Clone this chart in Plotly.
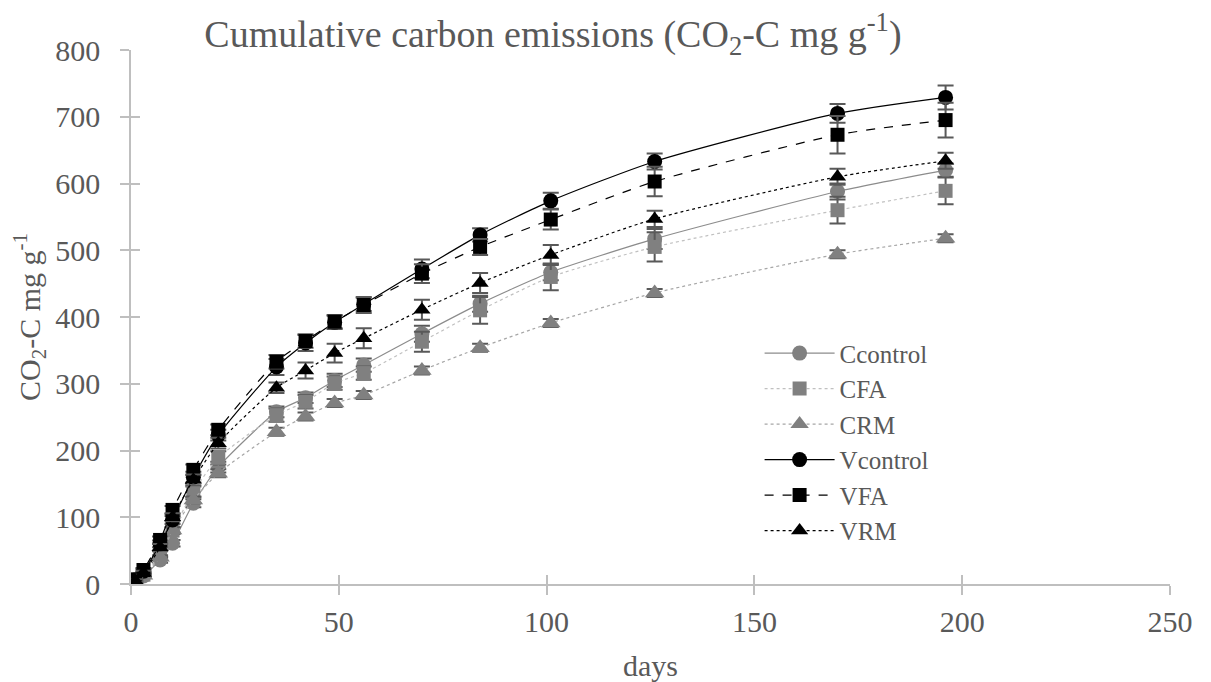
import plotly.graph_objects as go

# sampling days
days = [1, 3, 7, 10, 15, 21, 35, 42, 49, 56, 70, 84, 101, 126, 170, 196]

# cumulative CO2-C (mg g-1)
ccontrol = [3, 12, 36, 61, 121, 175, 258, 279, 305, 328, 375, 420, 467, 517, 588, 620]
cfa = [4, 14, 45, 80, 138, 189, 253, 273, 301, 316, 363, 410, 460, 505, 560, 589]
crm = [3, 13, 40, 81, 126, 166, 228, 251, 271, 283, 320, 354, 391, 436, 494, 518]
vcontrol = [6, 19, 60, 96, 160, 223, 325, 361, 392, 419, 472, 523, 574, 633, 705, 729]
vfa = [7, 21, 66, 111, 171, 231, 333, 364, 393, 418, 465, 505, 546, 603, 673, 695]
vrm = [5, 17, 55, 100, 156, 211, 294, 320, 346, 368, 411, 451, 493, 547, 610, 634]

# standard errors
ccontrol_err = [2, 3, 4, 5, 6, 8, 8, 8, 10, 10, 12, 12, 12, 15, 12, 10]
cfa_err = [2, 3, 4, 5, 8, 10, 10, 10, 10, 10, 15, 20, 20, 22, 20, 20]
crm_err = [1, 2, 3, 4, 5, 6, 6, 6, 6, 6, 6, 6, 6, 6, 6, 6]
vcontrol_err = [2, 3, 5, 6, 8, 8, 12, 12, 10, 10, 14, 10, 12, 12, 14, 18]
vfa_err = [2, 3, 5, 6, 8, 8, 10, 10, 10, 12, 14, 12, 15, 22, 28, 26]
vrm_err = [2, 3, 5, 6, 8, 8, 8, 12, 14, 15, 15, 15, 15, 12, 12, 12]

GRAY = "#808080"
TXT = "#595959"
AX = "#bfbfbf"
FONT = "Liberation Serif, Times New Roman, serif"

series = [
    ("Ccontrol", ccontrol, ccontrol_err, GRAY, "#8c8c8c", "solid", "circle", 15),
    ("CFA", cfa, cfa_err, GRAY, "#c0c0c0", "dot", "square", 14),
    ("CRM", crm, crm_err, GRAY, "#a6a6a6", "dot", "triangle-up", 17),
    ("Vcontrol", vcontrol, vcontrol_err, "black", "black", "solid", "circle", 15),
    ("VFA", vfa, vfa_err, "black", "black", "dash", "square", 14),
    ("VRM", vrm, vrm_err, "black", "black", "dot", "triangle-up", 15),
]

fig = go.Figure()
for name, vals, err, mcol, lcol, dash, sym, sz in series:
    fig.add_trace(go.Scatter(
        x=days, y=vals, name=name, mode="lines+markers",
        line=dict(color=lcol, width=1.2, dash=dash, shape="spline", smoothing=0.6),
        marker=dict(color=mcol, symbol=sym, size=sz),
        error_y=dict(type="data", array=err, color=TXT, thickness=2, width=8),
    ))

# invisible trace on an overlay axis pair so ticks also point inward (crossing ticks)
fig.add_trace(go.Scatter(x=[days[0]], y=[ccontrol[0]], xaxis="x2", yaxis="y2",
                         mode="markers", marker=dict(opacity=0), showlegend=False,
                         hoverinfo="skip"))

axis_common = dict(showgrid=False, zeroline=False, showline=True, linecolor=AX,
                   linewidth=1.5, ticks="outside", ticklen=9, tickcolor=AX,
                   tickwidth=1.5, automargin=False,
                   tickfont=dict(family=FONT, size=30, color=TXT))

fig.update_layout(
    width=1203, height=674,
    paper_bgcolor="white", plot_bgcolor="white",
    margin=dict(l=123, r=41, t=42, b=98),
    font=dict(family=FONT, color=TXT),
    title=dict(text="Cumulative carbon emissions (CO<sub>2</sub>-C mg g<sup>-1</sup>)",
               x=0.453, xanchor="center", y=0.962, yanchor="middle",
               font=dict(family=FONT, size=38, color=TXT)),
    xaxis=dict(range=[0, 250], dtick=50, ticklabelstandoff=1,
               title=dict(text="days", font=dict(family=FONT, size=30, color=TXT), standoff=22),
               **axis_common),
    yaxis=dict(range=[0, 800], dtick=100, ticklabelstandoff=14,
               title=dict(text="CO<sub>2</sub>-C mg g<sup>-1</sup>",
                          font=dict(family=FONT, size=30, color=TXT), standoff=12),
               **axis_common),
    xaxis2=dict(overlaying="x", matches="x", range=[0, 250], dtick=50, showgrid=False,
                zeroline=False, showline=False, ticks="inside", ticklen=9,
                tickcolor=AX, tickwidth=1.5, showticklabels=False, anchor="y2"),
    yaxis2=dict(overlaying="y", matches="y", range=[0, 800], dtick=100, showgrid=False,
                zeroline=False, showline=False, ticks="inside", ticklen=9,
                tickcolor=AX, tickwidth=1.5, showticklabels=False, anchor="x2"),
    legend=dict(x=0.605, y=0.475, xanchor="left", yanchor="top",
                font=dict(family=FONT, size=25, color=TXT),
                bgcolor="rgba(0,0,0,0)", tracegroupgap=0, itemwidth=70),
    showlegend=True,
)

fig.write_html("out.html")
